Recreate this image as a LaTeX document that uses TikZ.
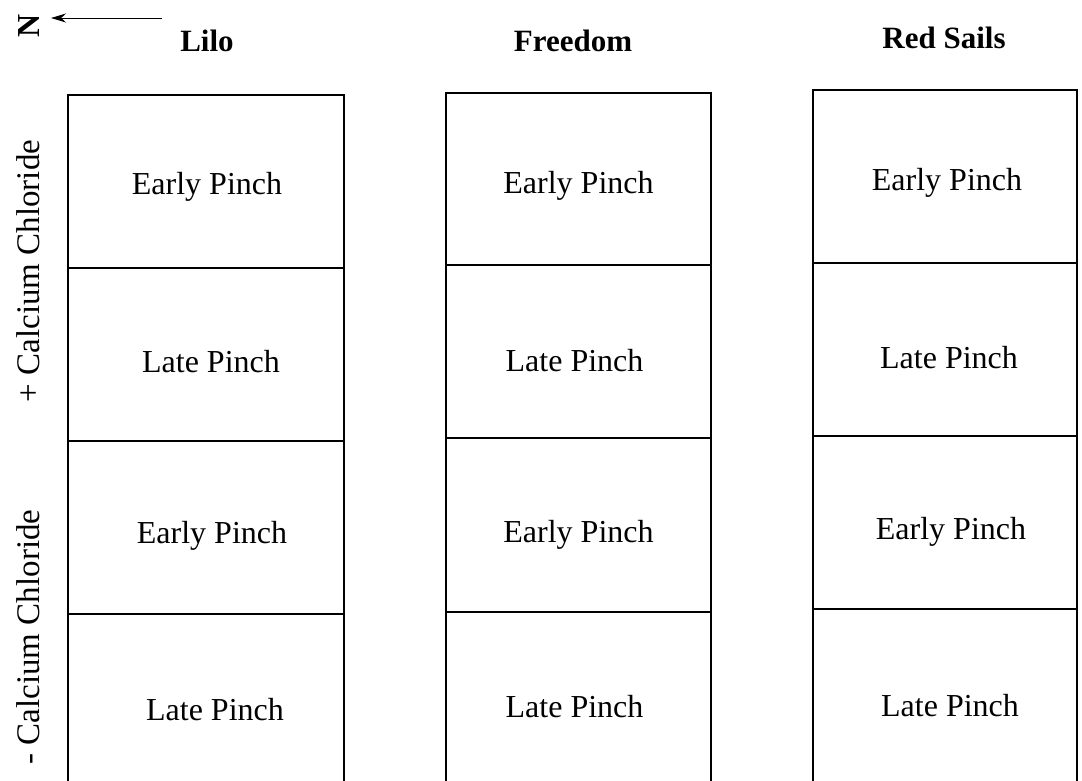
\documentclass[tikz,border=0pt]{standalone}
\usepackage{fontspec}
\setmainfont{Liberation Serif}
\usetikzlibrary{arrows.meta}
\tikzset{
  cell/.style={draw=black, line width=1.6pt, rectangle, inner sep=0pt},
  lbl/.style={font=\fontsize{32}{36}\selectfont, inner sep=0pt},
  head/.style={font=\fontsize{31}{36}\selectfont\bfseries, inner sep=0pt},
  side/.style={font=\fontsize{33}{38}\selectfont, inner sep=0pt, rotate=90},
  northarrow/.style={line width=1pt, -{Stealth[length=15pt,width=9pt]}}
}
\begin{document}
\begin{tikzpicture}[x=1pt,y=-1pt]
\useasboundingbox (0,0) rectangle (1082,780);
\fill[white] (0,0) rectangle (1082,780);
% north marker
\node[font=\fontsize{32}{36}\selectfont\bfseries, rotate=90, inner sep=0pt] (N) at (29,26) {N};
\coordinate (arrS) at (162,18);
\coordinate (arrE) at (51,18);
\draw[northarrow] (arrS) -- (arrE);
% headers
\node[head] (hLilo) at (207,41) {Lilo};
\node[head] (hFree) at (573,41) {Freedom};
\node[head] (hRed) at (944,38) {Red Sails};
% side labels
\node[side] (sPlus) at (28,271) {+ Calcium Chloride};
\node[side] (sMinus) at (28,637) {- Calcium Chloride};
% column 1: x 68..344
\node[cell, minimum width=276pt, minimum height=173pt] (a1) at (206,181.5) {};
\node[cell, minimum width=276pt, minimum height=173pt] (a2) at (206,354.5) {};
\node[cell, minimum width=276pt, minimum height=173pt] (a3) at (206,527.5) {};
\node[cell, minimum width=276pt, minimum height=173pt] (a4) at (206,700.5) {};
% column 2: x 446..711
\node[cell, minimum width=265pt, minimum height=172pt] (b1) at (578.5,179) {};
\node[cell, minimum width=265pt, minimum height=173pt] (b2) at (578.5,351.5) {};
\node[cell, minimum width=265pt, minimum height=174pt] (b3) at (578.5,525) {};
\node[cell, minimum width=265pt, minimum height=173pt] (b4) at (578.5,698.5) {};
% column 3: x 813..1077
\node[cell, minimum width=264pt, minimum height=173pt] (c1) at (945,176.5) {};
\node[cell, minimum width=264pt, minimum height=173pt] (c2) at (945,349.5) {};
\node[cell, minimum width=264pt, minimum height=173pt] (c3) at (945,522.5) {};
\node[cell, minimum width=264pt, minimum height=173pt] (c4) at (945,695.5) {};
% labels
\node[lbl] (ta1) at ([xshift=1pt,yshift=-5pt]a1.center) {Early Pinch};
\node[lbl] (ta2) at ([xshift=5pt,yshift=-7pt]a2.center) {Late Pinch};
\node[lbl] (ta3) at ([xshift=6pt,yshift=-8pt]a3.center) {Early Pinch};
\node[lbl] (ta4) at ([xshift=9pt,yshift=-9pt]a4.center) {Late Pinch};
\node[lbl] (tb1) at ([xshift=0pt,yshift=-7pt]b1.center) {Early Pinch};
\node[lbl] (tb2) at ([xshift=-4pt,yshift=-9pt]b2.center) {Late Pinch};
\node[lbl] (tb3) at ([xshift=0pt,yshift=-10pt]b3.center) {Early Pinch};
\node[lbl] (tb4) at ([xshift=-4pt,yshift=-8pt]b4.center) {Late Pinch};
\node[lbl] (tc1) at ([xshift=2pt,yshift=-6pt]c1.center) {Early Pinch};
\node[lbl] (tc2) at ([xshift=4pt,yshift=-8pt]c2.center) {Late Pinch};
\node[lbl] (tc3) at ([xshift=6pt,yshift=-9pt]c3.center) {Early Pinch};
\node[lbl] (tc4) at ([xshift=5pt,yshift=-10pt]c4.center) {Late Pinch};
\end{tikzpicture}
\end{document}
